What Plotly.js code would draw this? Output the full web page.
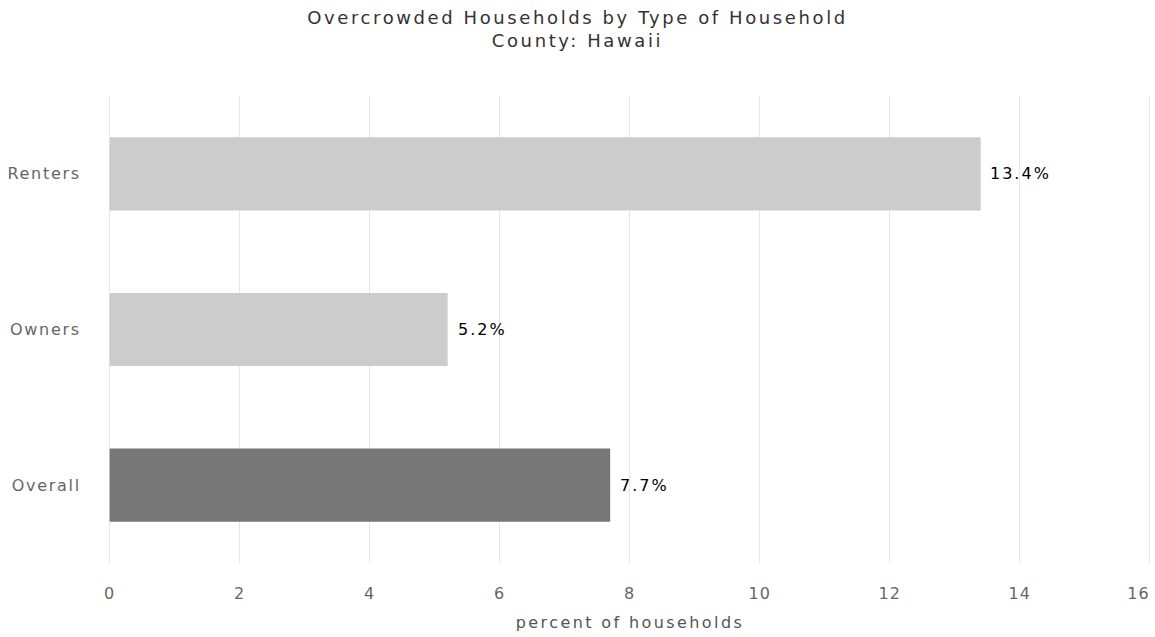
<!DOCTYPE html>
<html><head><meta charset="utf-8">
<script src="https://cdn.plot.ly/plotly-3.0.1.min.js"></script>
<style>
html,body{margin:0;padding:0;background:#fff}
#chart{width:1155px;height:637px}
#chart .gtitle{letter-spacing:2.6px}
#chart .xtitle{letter-spacing:2.4px}
#chart .ytick text{letter-spacing:1.7px}
#chart .xtick text{letter-spacing:1px}
#chart .xtick text[data-unformatted="16"]{text-anchor:end}
#chart .annotation-text{letter-spacing:2px}
</style>
</head><body><div id="chart"></div>
<script>
const categories = ["Overall", "Owners", "Renters"];
const values = [7.7, 5.2, 13.4];
const barColors = ["#777777", "#cccccc", "#cccccc"];
const xTicks = [0, 2, 4, 6, 8, 10, 12, 14, 16];
const xTickText = ["0", "2", "4", "6", "8", "10", "12", "14", "16"];

const trace = {
  type: "bar", orientation: "h",
  x: values, y: categories,
  marker: {color: barColors},
  hoverinfo: "none"
};
const annotations = categories.map((c, i) => ({
  x: values[i], y: c, xref: "x", yref: "y",
  text: values[i].toFixed(1) + "%", showarrow: false,
  xanchor: "left", xshift: 12,
  font: {family: "DejaVu Sans, Verdana, sans-serif", size: 16, color: "#000"}
}));
const layout = {
  width: 1155, height: 637,
  margin: {l: 109, r: 4, t: 96, b: 74},
  paper_bgcolor: "#fff", plot_bgcolor: "#fff",
  showlegend: false,
  bargap: 0.53,
  title: {
    text: "Overcrowded Households by Type of Household<br>County: Hawaii",
    x: 0.5, xanchor: "center", y: 0.963, yanchor: "top",
    font: {family: "DejaVu Sans, sans-serif", size: 18, color: "#333"}
  },
  xaxis: {
    range: [-0.01, 16.02], tickvals: xTicks, ticktext: xTickText,
    showgrid: true, gridcolor: "#e6e6e6", gridwidth: 1,
    zeroline: true, zerolinecolor: "#e6e6e6", zerolinewidth: 1, showline: false,
    tickfont: {family: "DejaVu Sans, sans-serif", size: 16, color: "#666"},
    ticks: "outside", ticklen: 16, tickcolor: "rgba(0,0,0,0)",
    ticklabeloverflow: "allow",
    title: {text: "percent of households", standoff: 14,
      font: {family: "DejaVu Sans, sans-serif", size: 16, color: "#555"}}
  },
  yaxis: {
    categoryorder: "array", categoryarray: categories,
    showgrid: false, zeroline: false, showline: false,
    tickfont: {family: "DejaVu Sans, sans-serif", size: 16, color: "#666"},
    ticks: "outside", ticklen: 24, tickcolor: "rgba(0,0,0,0)"
  },
  annotations: annotations
};
Plotly.newPlot("chart", [trace], layout, {displayModeBar: false, staticPlot: true});
</script></body></html>
